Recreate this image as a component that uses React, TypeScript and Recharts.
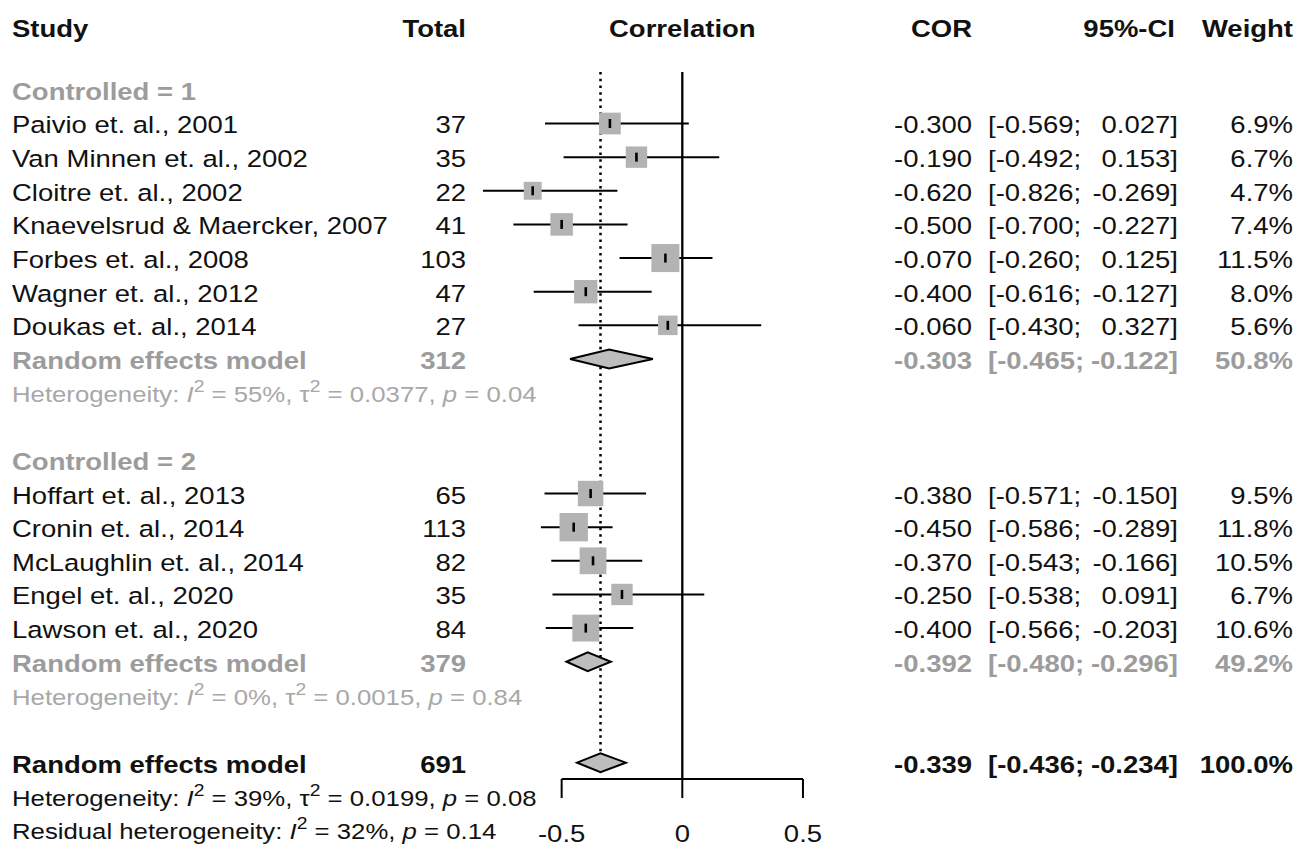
import React from "react"
import { ComposedChart, XAxis, YAxis, Scatter, ErrorBar, ReferenceLine } from "recharts"

// ---- data ----
const studies = [
  "Paivio et. al., 2001",
  "Van Minnen et. al., 2002",
  "Cloitre et. al., 2002",
  "Knaevelsrud & Maercker, 2007",
  "Forbes et. al., 2008",
  "Wagner et. al., 2012",
  "Doukas et. al., 2014",
  "Hoffart et. al., 2013",
  "Cronin et. al., 2014",
  "McLaughlin et. al., 2014",
  "Engel et. al., 2020",
  "Lawson et. al., 2020",
]
const studyGroup = [1, 1, 1, 1, 1, 1, 1, 2, 2, 2, 2, 2]
const total = [37, 35, 22, 41, 103, 47, 27, 65, 113, 82, 35, 84]
const cor = [-0.3, -0.19, -0.62, -0.5, -0.07, -0.4, -0.06, -0.38, -0.45, -0.37, -0.25, -0.4]
const lower = [-0.569, -0.492, -0.826, -0.7, -0.26, -0.616, -0.43, -0.571, -0.586, -0.543, -0.538, -0.566]
const upper = [0.027, 0.153, -0.269, -0.227, 0.125, -0.127, 0.327, -0.15, -0.289, -0.166, 0.091, -0.203]
const weight = [6.9, 6.7, 4.7, 7.4, 11.5, 8.0, 5.6, 9.5, 11.8, 10.5, 6.7, 10.6]

const groups = [1, 2]
const groupLabels = ["Controlled = 1", "Controlled = 2"]
const reTotal = [312, 379]
const reCor = [-0.303, -0.392]
const reLower = [-0.465, -0.48]
const reUpper = [-0.122, -0.296]
const reWeight = [50.8, 49.2]
const hetI2 = [55, 0]
const hetTau2 = ["0.0377", "0.0015"]
const hetP = ["0.04", "0.84"]

const overallTotal = 691
const overallCor = -0.339
const overallLower = -0.436
const overallUpper = -0.234
const overallWeight = 100.0
const overallHet = ["39", "0.0199", "0.08"]
const residHet = ["32", "0.14"]

const xTicks = [-0.5, 0, 0.5]
const headers = ["Study", "Total", "Correlation", "COR", "95%-CI", "Weight"]

// ---- layout ----
const W = 1306
const H = 849
const FONT = "'Liberation Sans', Arial, Helvetica, sans-serif"
const SX = 1.17
const FS = 23.5
const FS_HET = 22
const GRAY = "#9c9c9c"
const GRAY_HET = "#a8a8a8"
const BLACK = "#111"

// forest axis calibration: value 0 at px 682.3, 241.3 px per unit
const ZERO_PX = 682.3
const PX_UNIT = 241.3
const F_DOMAIN = [-ZERO_PX / PX_UNIT, (W - ZERO_PX) / PX_UNIT]
// row axis: row 0 at px 123.5, 33.64 px per row
const ROW0_PX = 123.5
const ROW_PX = 33.64
const R_DOMAIN = [-ROW0_PX / ROW_PX, (H - ROW0_PX) / ROW_PX]

const HEADER_ROW = -2.87
const TOP_ROW = -1.53
const AXIS_ROW = 19.486
const TICK_END_ROW = 20.05
const TICK_LABEL_ROW = 21.05
const DIAMOND_HALF = 0.28

const COL_STUDY = 12
const COL_TOTAL = 466
const COL_COR = 972
const COL_CI_L = 988
const COL_CI_R = 1178
const COL_CI_HEAD = 1175
const COL_WEIGHT = 1293

// row positions
const studyRow: number[] = []
const groupRow: number[] = []
const reRow: number[] = []
const hetRow: number[] = []
let r = -1
groups.forEach((g) => {
  groupRow.push(r++)
  studies.forEach((_, i) => {
    if (studyGroup[i] === g) studyRow[i] = r++
  })
  reRow.push(r++)
  hetRow.push(r++)
  r++
})
const overallRow = r
const overallHetRow = r + 1
const residRow = r + 2

type Part = { t: string; it?: boolean; sup?: boolean }
type Cell = {
  x: number
  y: number
  parts: Part[]
  anchor: "start" | "middle" | "end"
  bold?: boolean
  color: string
  size: number
}

const txt = (x: number, y: number, t: string, anchor: Cell["anchor"], color = BLACK, bold = false, size = FS): Cell => ({
  x,
  y,
  parts: [{ t }],
  anchor,
  bold,
  color,
  size,
})

const f3 = (v: number) => v.toFixed(3)

const rowCells = (
  y: number,
  label: string,
  n: number,
  c: number,
  lo: number,
  hi: number,
  w: number,
  color: string,
  bold: boolean
): Cell[] => [
  txt(COL_STUDY, y, label, "start", color, bold),
  txt(COL_TOTAL, y, String(n), "end", color, bold),
  txt(COL_COR, y, f3(c), "end", color, bold),
  txt(COL_CI_L, y, `[${f3(lo)};`, "start", color, bold),
  txt(COL_CI_R, y, `${f3(hi)}]`, "end", color, bold),
  txt(COL_WEIGHT, y, `${w.toFixed(1)}%`, "end", color, bold),
]

const hetParts = (i2: string, tau2: string | null, p: string, prefix: string): Part[] => {
  const parts: Part[] = [{ t: prefix }, { t: "I", it: true }, { t: "2", sup: true }, { t: ` = ${i2}%, ` }]
  if (tau2 != null) parts.push({ t: "\u03c4" }, { t: "2", sup: true }, { t: ` = ${tau2}, ` })
  parts.push({ t: "p", it: true }, { t: ` = ${p}` })
  return parts
}

const tableCells: Cell[] = [
  txt(COL_STUDY, HEADER_ROW, headers[0], "start", BLACK, true),
  txt(COL_TOTAL, HEADER_ROW, headers[1], "end", BLACK, true),
  txt(COL_COR, HEADER_ROW, headers[3], "end", BLACK, true),
  txt(COL_CI_HEAD, HEADER_ROW, headers[4], "end", BLACK, true),
  txt(COL_WEIGHT, HEADER_ROW, headers[5], "end", BLACK, true),
]
groups.forEach((_, gi) => {
  tableCells.push(txt(COL_STUDY, groupRow[gi], groupLabels[gi], "start", GRAY, true))
  tableCells.push(
    ...rowCells(reRow[gi], "Random effects model", reTotal[gi], reCor[gi], reLower[gi], reUpper[gi], reWeight[gi], GRAY, true)
  )
  tableCells.push({
    x: COL_STUDY,
    y: hetRow[gi],
    parts: hetParts(String(hetI2[gi]), hetTau2[gi], hetP[gi], "Heterogeneity: "),
    anchor: "start",
    color: GRAY_HET,
    size: FS_HET,
  })
})
studies.forEach((s, i) => {
  tableCells.push(...rowCells(studyRow[i], s, total[i], cor[i], lower[i], upper[i], weight[i], BLACK, false))
})
tableCells.push(
  ...rowCells(overallRow, "Random effects model", overallTotal, overallCor, overallLower, overallUpper, overallWeight, BLACK, true)
)
tableCells.push({
  x: COL_STUDY,
  y: overallHetRow,
  parts: hetParts(overallHet[0], overallHet[1], overallHet[2], "Heterogeneity: "),
  anchor: "start",
  color: BLACK,
  size: FS_HET,
})
tableCells.push({
  x: COL_STUDY,
  y: residRow,
  parts: hetParts(residHet[0], null, residHet[1], "Residual heterogeneity: "),
  anchor: "start",
  color: BLACK,
  size: FS_HET,
})

// cells placed on the forest axis
const forestCells: Cell[] = [
  txt(0, HEADER_ROW, headers[2], "middle", BLACK, true),
  ...xTicks.map((t) => txt(t, TICK_LABEL_ROW, String(t), "middle", BLACK, false)),
]

const studyPoints = studies.map((_, i) => ({
  x: cor[i],
  y: studyRow[i],
  w: weight[i],
  err: [cor[i] - lower[i], upper[i] - cor[i]],
}))

const diamonds = [
  ...groups.map((_, gi) => ({ row: reRow[gi], c: reCor[gi], lo: reLower[gi], hi: reUpper[gi] })),
  { row: overallRow, c: overallCor, lo: overallLower, hi: overallUpper },
].map((d) => [
  { x: d.lo, y: d.row },
  { x: d.c, y: d.row - DIAMOND_HALF },
  { x: d.hi, y: d.row },
  { x: d.c, y: d.row + DIAMOND_HALF },
])

// vertical reference lines (no effect, pooled estimate), drawn below the marks
const zeroLine = [
  { x: 0, y: TOP_ROW },
  { x: 0, y: AXIS_ROW },
]
const pooledLine = [
  { x: overallCor, y: TOP_ROW },
  { x: overallCor, y: overallRow },
]

const TextShape = (p: any) => {
  const c: Cell = p.payload
  const fs = c.size
  let shift = 0
  return (
    <text
      transform={`translate(${p.cx},${p.cy + fs * 0.36 + 1.5}) scale(${SX},1)`}
      textAnchor={c.anchor}
      fontFamily={FONT}
      fontSize={fs}
      fontWeight={c.bold ? 700 : 400}
      fill={c.color}
    >
      {c.parts.map((pt, k) => {
        let dy = 0
        if (pt.sup) {
          dy = -fs * 0.45
          shift = fs * 0.45
        } else if (shift) {
          dy = shift
          shift = 0
        }
        return (
          <tspan
            key={k}
            dy={dy}
            fontSize={pt.sup ? fs * 0.75 : fs}
            fontStyle={pt.it ? "italic" : "normal"}
          >
            {pt.t}
          </tspan>
        )
      })}
    </text>
  )
}

const SquareShape = (p: any) => {
  const s = 8.26 * Math.sqrt(p.payload.w)
  return <rect x={p.cx - s / 2} y={p.cy - s / 2} width={s} height={s} fill="#b3b3b3" />
}

const TickShape = (p: any) => (
  <line x1={p.cx} x2={p.cx} y1={p.cy - 4.5} y2={p.cy + 4.5} stroke="#000" strokeWidth={2.6} />
)

const Empty = () => <g />

const DiamondLine = (lp: any) => {
  const pts = lp.points as { x: number; y: number }[]
  const d = pts.map((q, k) => `${k ? "L" : "M"}${q.x},${q.y}`).join(" ") + " Z"
  return <path d={d} fill="#bdbdbd" stroke="#000" strokeWidth={2} strokeLinejoin="miter" />
}

export default function App() {
  return (
    <div style={{ position: "absolute", left: 0, top: 0, width: W, height: H, background: "#fff" }}>
      <ComposedChart width={W} height={H} margin={{ top: 0, right: 0, bottom: 0, left: 0 }}>
        <XAxis xAxisId="f" type="number" dataKey="x" domain={F_DOMAIN} hide />
        <XAxis xAxisId="px" type="number" dataKey="x" domain={[0, W]} hide />
        <YAxis yAxisId="r" type="number" dataKey="y" domain={R_DOMAIN} reversed hide />

        {/* axis line and ticks */}
        <ReferenceLine
          xAxisId="f"
          yAxisId="r"
          segment={[
            { x: xTicks[0], y: AXIS_ROW },
            { x: xTicks[xTicks.length - 1], y: AXIS_ROW },
          ]}
          stroke="#000"
          strokeWidth={2}
        />
        {xTicks.map((t) => (
          <ReferenceLine
            key={t}
            xAxisId="f"
            yAxisId="r"
            segment={[
              { x: t, y: AXIS_ROW },
              { x: t, y: TICK_END_ROW },
            ]}
            stroke="#000"
            strokeWidth={2}
          />
        ))}

        <Scatter
          xAxisId="f"
          yAxisId="r"
          data={zeroLine}
          shape={Empty}
          line={{ stroke: "#000", strokeWidth: 2.3 }}
          isAnimationActive={false}
        />
        <Scatter
          xAxisId="f"
          yAxisId="r"
          data={pooledLine}
          shape={Empty}
          line={{ stroke: "#000", strokeWidth: 2.5, strokeDasharray: "2.5 4.2" }}
          isAnimationActive={false}
        />

        <Scatter xAxisId="f" yAxisId="r" data={studyPoints} shape={SquareShape} isAnimationActive={false} />
        <Scatter xAxisId="f" yAxisId="r" data={studyPoints} shape={TickShape} isAnimationActive={false}>
          <ErrorBar dataKey="err" direction="x" width={0} stroke="#000" strokeWidth={2} isAnimationActive={false} />
        </Scatter>
        {diamonds.map((d, k) => (
          <Scatter
            key={k}
            xAxisId="f"
            yAxisId="r"
            data={d}
            shape={Empty}
            line={DiamondLine}
            isAnimationActive={false}
          />
        ))}

        <Scatter xAxisId="px" yAxisId="r" data={tableCells} shape={TextShape} isAnimationActive={false} />
        <Scatter xAxisId="f" yAxisId="r" data={forestCells} shape={TextShape} isAnimationActive={false} />
      </ComposedChart>
    </div>
  )
}
